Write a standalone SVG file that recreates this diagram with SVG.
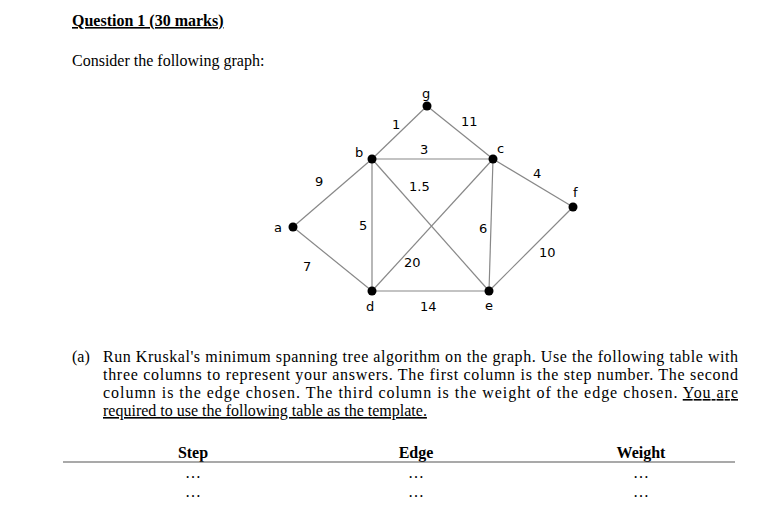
<svg xmlns="http://www.w3.org/2000/svg" width="777" height="506" viewBox="0 0 777 506">
<style>
.t{font-family:"Liberation Serif",serif;font-size:16px;fill:#000}
.b{font-weight:bold}
.g{font-family:"DejaVu Sans","Liberation Sans",sans-serif;font-size:13px;fill:#000}
.e line{stroke:#888;stroke-width:1.2}
.n{fill:#000}
</style>
<rect width="777" height="506" fill="#fff"/>
<text class="t b" x="72" y="26" text-decoration="underline">Question 1 (30 marks)</text>
<text class="t" x="72" y="66">Consider the following graph:</text>
<g class="e" id="connectors">
<line x1="427" y1="106" x2="372" y2="159"/>
<line x1="427" y1="106" x2="493" y2="159"/>
<line x1="372" y1="159" x2="493" y2="159"/>
<line x1="372" y1="159" x2="293" y2="227"/>
<line x1="293" y1="227" x2="372" y2="291"/>
<line x1="372" y1="159" x2="372" y2="291"/>
<line x1="372" y1="159" x2="489" y2="291"/>
<line x1="493" y1="159" x2="372" y2="291"/>
<line x1="493" y1="159" x2="489" y2="291"/>
<line x1="493" y1="159" x2="573" y2="207"/>
<line x1="573" y1="207" x2="489" y2="291"/>
<line x1="372" y1="291" x2="489" y2="291"/>
</g>
<g class="g">
<text x="392" y="129">1</text><text x="461" y="126">11</text>
<text x="420" y="154">3</text><text x="533" y="178">4</text>
<text x="315" y="186">9</text><text x="409" y="191">1.5</text>
<text x="359" y="230">5</text><text x="479" y="233">6</text>
<text x="303" y="271">7</text><text x="404" y="267">20</text>
<text x="539" y="257">10</text><text x="420" y="311">14</text>
</g>
<g id="g"><circle class="n" cx="427" cy="106" r="4.5"/><text class="g" x="422" y="98">g</text></g>
<g id="b"><circle class="n" cx="372" cy="159" r="4.5"/><text class="g" x="355" y="157">b</text></g>
<g id="c"><circle class="n" cx="493" cy="159" r="4.5"/><text class="g" x="497" y="153">c</text></g>
<g id="f"><circle class="n" cx="573" cy="207" r="4.5"/><text class="g" x="573" y="197">f</text></g>
<g id="a"><circle class="n" cx="293" cy="227" r="4.5"/><text class="g" x="274" y="232">a</text></g>
<g id="d"><circle class="n" cx="372" cy="291" r="4.5"/><text class="g" x="366" y="311">d</text></g>
<g id="e"><circle class="n" cx="489" cy="291" r="4.5"/><text class="g" x="485" y="310">e</text></g>
<text class="t" x="72" y="362">(a)</text>
<text class="t" x="103" y="362" textLength="635" lengthAdjust="spacing">Run Kruskal's minimum spanning tree algorithm on the graph.  Use the following table with</text>
<text class="t" x="103" y="380" textLength="635" lengthAdjust="spacing">three columns to represent your answers.  The first column is the step number.  The second</text>
<text class="t" x="103" y="398" textLength="635" lengthAdjust="spacing">column is the edge chosen.  The third column is the weight of the edge chosen.  <tspan text-decoration="underline">You are</tspan></text>
<text class="t" x="103" y="416" text-decoration="underline">required to use the following table as the template.</text>
<text class="t b" x="193" y="458" text-anchor="middle">Step</text>
<text class="t b" x="416" y="458" text-anchor="middle">Edge</text>
<text class="t b" x="641" y="458" text-anchor="middle">Weight</text>
<line x1="63" y1="462" x2="735" y2="462" stroke="#555" stroke-width="1.2"/>
<g class="t">
<text x="193" y="478" text-anchor="middle">…</text><text x="416" y="478" text-anchor="middle">…</text><text x="641" y="478" text-anchor="middle">…</text>
<text x="193" y="497" text-anchor="middle">…</text><text x="416" y="497" text-anchor="middle">…</text><text x="641" y="497" text-anchor="middle">…</text>
</g>
</svg>
